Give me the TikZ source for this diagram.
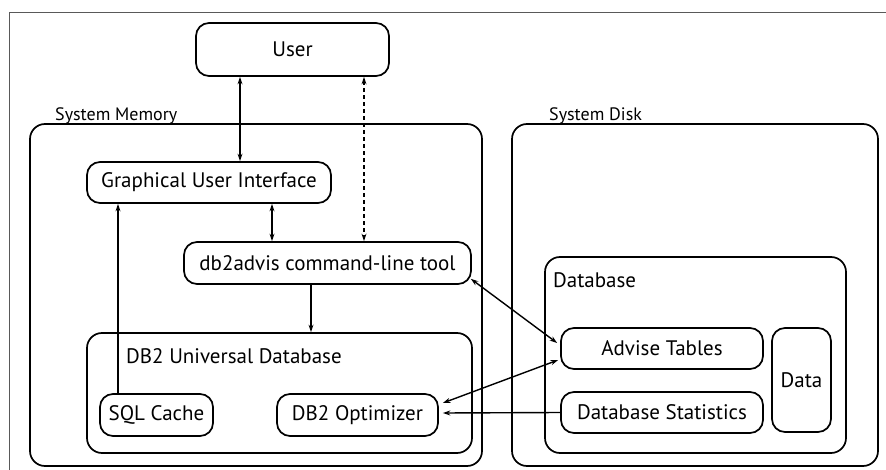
\documentclass[tikz,border=0pt]{standalone}
\usepackage{fontspec}
\setmainfont{PT Sans}
\usetikzlibrary{arrows.meta}
\begin{document}
\begin{tikzpicture}[x=1pt,y=-1pt,
  box/.style={draw, line width=1.7pt, rounded corners=13pt, inner sep=0pt, font=\fontsize{21}{24}\selectfont},
  bigbox/.style={draw, line width=1.7pt, rounded corners=15pt, inner sep=0pt},
  lbl/.style={inner sep=0pt, font=\fontsize{21}{24}\selectfont},
  toplbl/.style={inner sep=0pt, anchor=base west, font=\fontsize{18}{20}\selectfont},
  tip/.style={-{Stealth[length=7.5pt,width=5pt]}},
  tips/.style={{Stealth[length=7.5pt,width=5pt]}-{Stealth[length=7.5pt,width=5pt]}},
  conn/.style={line width=1.4pt}
]
\useasboundingbox (0,0) rectangle (886,470);
\draw[gray!70!black, line width=0.9pt] (9,470) -- (9,12) -- (886,12);

\node[box, minimum width=193pt, minimum height=53pt] (user) at (292.5,49.5) {User};

\node[bigbox, minimum width=452pt, minimum height=342pt] (mem) at (256,295) {};
\node[toplbl] (memlbl) at (55,121) {System Memory};
\node[bigbox, minimum width=366pt, minimum height=342pt] (disk) at (695,295) {};
\node[toplbl] (disklbl) at (549,121) {System Disk};

\node[box, minimum width=244pt, minimum height=41pt] (gui) at (209,182.5) {Graphical User Interface};
\node[box, minimum width=287pt, minimum height=42pt] (db) at (327.5,263) {db2advis command-line tool};

\node[bigbox, minimum width=385pt, minimum height=120pt] (udb) at (279.5,393) {};
\node[lbl, anchor=west] (udblbl) at (126,356) {DB2 Universal Database};
\node[box, minimum width=113pt, minimum height=42pt] (sql) at (156.5,415) {SQL Cache};
\node[box, minimum width=161pt, minimum height=42pt] (opt) at (357.5,415) {DB2 Optimizer};

\node[bigbox, minimum width=301pt, minimum height=196pt] (dbase) at (695.5,355) {};
\node[lbl, anchor=west] (dbaselbl) at (553,280) {Database};
\node[box, minimum width=202pt, minimum height=41pt] (adv) at (662,348.5) {Advise Tables};
\node[box, minimum width=59pt, minimum height=104pt] (data) at (801.5,380) {Data};
\node[box, minimum width=202pt, minimum height=41pt] (stats) at (662,412.5) {Database Statistics};

\draw[conn, tips] ([xshift=-52.5]user.south) -- ([xshift=31]gui.north);
\draw[conn, tips, dashed, dash pattern=on 4pt off 3pt] ([xshift=71.5]user.south) -- ([xshift=36.5]db.north);
\draw[conn, tips] ([xshift=63]gui.south) -- ([xshift=-55.5]db.north);
\draw[conn, tip] ([xshift=-38.5]sql.north) -- ([xshift=-91]gui.south);
\draw[conn, tip] ([xshift=-16.5]db.south) -- ([xshift=31.5]udb.north);
\draw[conn, tips] ([shift={(-1,-6)}]db.south east) -- ([shift={(-3,-5.5)}]adv.west);
\draw[conn, tips] ([shift={(4,-12)}]opt.east) -- ([shift={(-2,11.5)}]adv.west);
\draw[conn, tip] (stats.west) -- ([shift={(4,-2)}]opt.east);
\end{tikzpicture}
\end{document}
